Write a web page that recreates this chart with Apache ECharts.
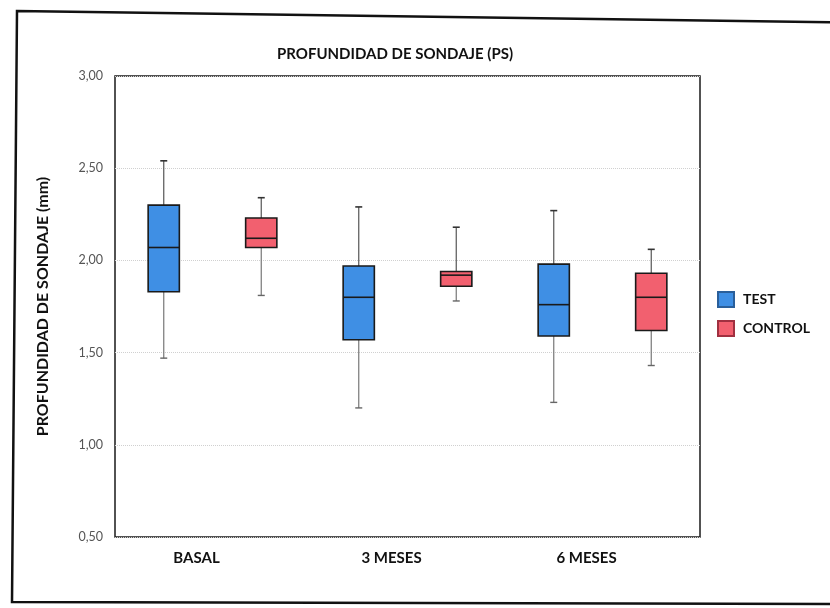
<!DOCTYPE html>
<html>
<head>
<meta charset="utf-8">
<script src="https://cdn.jsdelivr.net/npm/echarts@6/dist/echarts.min.js"></script>
<style>
html,body{margin:0;padding:0;background:#fff;}
#chart{width:830px;height:608px;}
</style>
</head>
<body>
<div id="chart"></div>
<script>
// ---- data ----
const categories = ['BASAL', '3 MESES', '6 MESES'];
const yTicks = [0.5, 1.0, 1.5, 2.0, 2.5, 3.0];

const testMin    = [1.47, 1.20, 1.23];
const testQ1     = [1.83, 1.57, 1.59];
const testMedian = [2.07, 1.80, 1.76];
const testQ3     = [2.30, 1.97, 1.98];
const testMax    = [2.54, 2.29, 2.27];

const controlMin    = [1.81, 1.78, 1.43];
const controlQ1     = [2.07, 1.86, 1.62];
const controlMedian = [2.12, 1.92, 1.80];
const controlQ3     = [2.23, 1.94, 1.93];
const controlMax    = [2.34, 2.18, 2.06];

const seriesNames = ['TEST', 'CONTROL'];
const colors = ['#3f8fe4', '#f2606f'];

function build(mn, q1, md, q3, mx) {
  return categories.map((c, i) => [i, mn[i], q1[i], md[i], q3[i], mx[i]]);
}
const testData = build(testMin, testQ1, testMedian, testQ3, testMax);
const controlData = build(controlMin, controlQ1, controlMedian, controlQ3, controlMax);

function makeRender(offsetFrac, color) {
  return function (params, api) {
    const idx = api.value(0);
    const band = api.size([1, 0])[0];
    const cx = api.coord([idx, 0])[0] + band * offsetFrac;
    const w = band * 0.16;
    const yMin = api.coord([idx, api.value(1)])[1];
    const yQ1 = api.coord([idx, api.value(2)])[1];
    const yMed = api.coord([idx, api.value(3)])[1];
    const yQ3 = api.coord([idx, api.value(4)])[1];
    const yMax = api.coord([idx, api.value(5)])[1];
    const cap = 3.5;
    return {
      type: 'group',
      children: [
        { type: 'line', shape: { x1: cx, y1: yMax, x2: cx, y2: yQ3 }, style: { stroke: '#555', lineWidth: 1.2 } },
        { type: 'line', shape: { x1: cx, y1: yQ1, x2: cx, y2: yMin }, style: { stroke: '#777', lineWidth: 1.2 } },
        { type: 'line', shape: { x1: cx - cap, y1: yMax, x2: cx + cap, y2: yMax }, style: { stroke: '#333', lineWidth: 1.6 } },
        { type: 'line', shape: { x1: cx - cap, y1: yMin, x2: cx + cap, y2: yMin }, style: { stroke: '#666', lineWidth: 1.4 } },
        { type: 'rect', shape: { x: cx - w / 2, y: yQ3, width: w, height: yQ1 - yQ3 }, style: { fill: color, stroke: '#1a1a1a', lineWidth: 1.6 } },
        { type: 'line', shape: { x1: cx - w / 2, y1: yMed, x2: cx + w / 2, y2: yMed }, style: { stroke: '#1a1a1a', lineWidth: 1.6 } }
      ]
    };
  };
}

const chart = echarts.init(document.getElementById('chart'), null, { renderer: 'canvas' });
const FONT = 'Lato, "Open Sans", sans-serif';

chart.setOption({
  backgroundColor: '#fff',
  animation: false,
  textStyle: { fontFamily: FONT },
  title: {
    text: 'PROFUNDIDAD DE SONDAJE (PS)',
    left: 272,
    top: 42,
    textStyle: { fontFamily: FONT, fontSize: 15, fontWeight: 'bold', color: '#111' }
  },
  legend: {
    orient: 'vertical',
    left: 717,
    top: 291,
    padding: 0,
    itemWidth: 16,
    itemHeight: 15,
    itemGap: 12,
    icon: 'rect',
    data: seriesNames,
    textStyle: { fontFamily: FONT, fontSize: 14, fontWeight: 'bold', color: '#111', padding: [0, 0, 0, 4] }
  },
  grid: {
    left: 115, right: 130, top: 76, bottom: 71,
    show: true, borderColor: '#1a1a1a', borderWidth: 1.5, backgroundColor: 'transparent'
  },
  xAxis: {
    type: 'category',
    data: categories,
    axisLine: { show: false },
    axisTick: { show: false },
    splitLine: { show: false },
    axisLabel: {
      margin: 14,
      fontFamily: FONT, fontSize: 15, fontWeight: 'bold', color: '#111',
      padding: [0, 32, 0, 0]
    }
  },
  yAxis: {
    type: 'value',
    min: yTicks[0],
    max: yTicks[yTicks.length - 1],
    interval: 0.5,
    name: 'PROFUNDIDAD DE SONDAJE (mm)',
    nameLocation: 'middle',
    nameGap: 64,
    nameTextStyle: { fontFamily: FONT, fontSize: 16, fontWeight: 'bold', color: '#111' },
    axisLine: { show: false },
    axisTick: { show: false },
    axisLabel: {
      margin: 12,
      fontFamily: FONT, fontSize: 12.5, color: '#555',
      formatter: v => v.toFixed(2).replace('.', ',')
    },
    splitLine: { show: true, lineStyle: { color: '#d0d0d0', type: 'dotted', width: 1 } }
  },
  series: [
    {
      name: seriesNames[0],
      type: 'custom',
      itemStyle: { color: colors[0], borderColor: '#2a5f9a', borderWidth: 1 },
      renderItem: makeRender(-0.25, colors[0]),
      encode: { x: 0, y: [1, 2, 3, 4, 5] },
      data: testData
    },
    {
      name: seriesNames[1],
      type: 'custom',
      itemStyle: { color: colors[1], borderColor: '#a03040', borderWidth: 1 },
      renderItem: makeRender(0.25, colors[1]),
      encode: { x: 0, y: [1, 2, 3, 4, 5] },
      data: controlData
    }
  ],
  graphic: [
    {
      type: 'polygon',
      silent: true,
      shape: { points: [[17, 11], [845, 22.5], [845, 604], [12, 602]] },
      style: { fill: 'none', stroke: '#111', lineWidth: 2.5 },
      z: 100
    }
  ]
});
</script>
</body>
</html>
